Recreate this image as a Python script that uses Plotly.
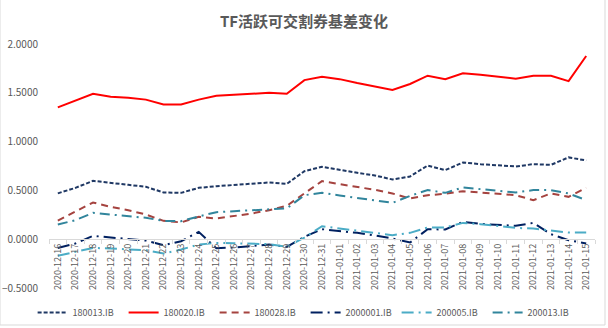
import plotly.graph_objects as go

dates = (["2020-12-%02d" % d for d in range(16, 32)] +
         ["2021-01-%02d" % d for d in range(1, 16)])

s180013 = [0.47, 0.526, 0.598, 0.574, 0.557, 0.537, 0.479, 0.475, 0.526, 0.543,
           0.557, 0.567, 0.581, 0.567, 0.697, 0.742, 0.708, 0.680, 0.653, 0.612,
           0.643, 0.755, 0.708, 0.786, 0.769, 0.755, 0.745, 0.769, 0.762, 0.838, 0.807]
s180020 = [1.35, 1.42, 1.49, 1.46, 1.45, 1.43, 1.38, 1.38, 1.43, 1.47,
           1.48, 1.49, 1.50, 1.49, 1.63, 1.665, 1.64, 1.60, 1.565, 1.53,
           1.59, 1.675, 1.64, 1.70, 1.685, 1.665, 1.645, 1.675, 1.675, 1.62, 1.877]
s180028 = [0.19, 0.28, 0.376, 0.331, 0.297, 0.253, 0.188, 0.172, 0.229, 0.212,
           0.236, 0.263, 0.297, 0.342, 0.469, 0.595, 0.564, 0.537, 0.506, 0.469,
           0.417, 0.451, 0.465, 0.492, 0.479, 0.469, 0.451, 0.400, 0.469, 0.434, 0.526]
s2000001 = [-0.09, -0.044, 0.034, 0.017, 0.003, -0.014, -0.062, -0.021, 0.075, -0.092,
            -0.085, -0.072, -0.055, -0.079, 0.024, 0.103, 0.085, 0.065, 0.038, 0.007,
            -0.034, 0.103, 0.099, 0.178, 0.157, 0.144, 0.137, 0.167, 0.051, -0.010, -0.044]
s200005 = [-0.17, -0.13, -0.089, -0.096, -0.103, -0.113, -0.147, -0.106, -0.055, -0.038,
           -0.041, -0.048, -0.051, -0.079, 0.017, 0.133, 0.109, 0.085, 0.065, 0.041,
           0.065, 0.120, 0.120, 0.167, 0.154, 0.133, 0.116, 0.109, 0.092, 0.068, 0.068]
s200013 = [0.15, 0.195, 0.270, 0.253, 0.239, 0.219, 0.188, 0.185, 0.233, 0.277,
           0.287, 0.297, 0.308, 0.315, 0.451, 0.475, 0.448, 0.424, 0.400, 0.373,
           0.444, 0.503, 0.475, 0.530, 0.513, 0.496, 0.479, 0.503, 0.503, 0.469, 0.400]

series = [
    ("180013.IB", s180013, "#1F3864", "4px,2px"),
    ("180020.IB", s180020, "#FF0000", "solid"),
    ("180028.IB", s180028, "#A5433F", "7px,5px"),
    ("2000001.IB", s2000001, "#002060", "12px,5px,2px,5px"),
    ("200005.IB", s200005, "#4BACC6", "12px,5px,2px,5px"),
    ("200013.IB", s200013, "#31859C", "10px,5px,2px,5px"),
]

FONT = "Noto Sans CJK SC, sans-serif"
GREY = "#595959"

fig = go.Figure()
for name, vals, color, dash in series:
    fig.add_trace(go.Scatter(x=dates, y=vals, name=name, mode="lines",
                             line=dict(color=color, width=2, dash=dash)))

fig.update_layout(
    width=608, height=328,
    margin=dict(l=49, r=13, t=44, b=40, autoexpand=False),
    paper_bgcolor="white", plot_bgcolor="white",
    font=dict(family=FONT, size=10, color=GREY),
    title=dict(text="<b>TF活跃可交割券基差变化</b>", x=0.5, xanchor="center",
               y=0.935, yanchor="middle",
               font=dict(family=FONT, size=15, color=GREY)),
    showlegend=True,
    legend=dict(orientation="h", x=0.47, xanchor="center", y=-0.1, yanchor="middle",
                font=dict(family=FONT, size=9, color=GREY),
                entrywidth=46, entrywidthmode="pixels",
                itemwidth=30, tracegroupgap=0, bgcolor="rgba(0,0,0,0)"),
    xaxis=dict(type="category", range=[-0.5, 30.5], anchor="free", position=0.2,
               showline=True, linecolor="#D9D9D9", linewidth=1,
               ticks="outside", ticklen=4, tickcolor="#D9D9D9", tickson="boundaries",
               tickangle=-90, tickfont=dict(family=FONT, size=9, color=GREY),
               showgrid=False, zeroline=False, automargin=False),
    yaxis=dict(range=[-0.5, 2.0], dtick=0.5, tick0=0, tickformat=".4f",
               showline=False, showgrid=False, zeroline=False, ticks="",
               ticklabelstandoff=10,
               tickfont=dict(family=FONT, size=10, color=GREY), automargin=False),
    shapes=[dict(type="rect", xref="paper", yref="paper",
                 x0=-49/546, x1=(605-49)/546, y0=(288-325)/244, y1=44/244 + 1 + 0.01,
                 line=dict(color="#D9D9D9", width=1), fillcolor="rgba(0,0,0,0)",
                 layer="below")],
)

fig.write_html("out.html")
